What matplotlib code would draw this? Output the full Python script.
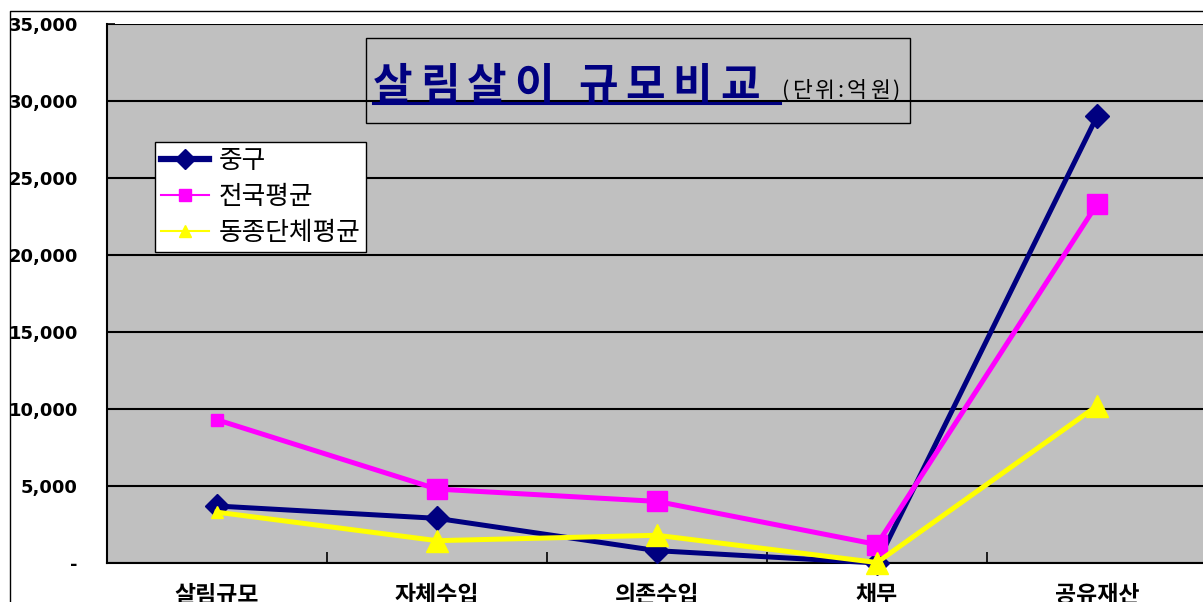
import matplotlib.pyplot as plt
from matplotlib.lines import Line2D
from matplotlib.patches import Rectangle

plt.rcParams['font.family'] = ['Noto Sans CJK KR', 'DejaVu Sans']

# data
categories = ['살림규모', '자체수입', '의존수입', '채무', '공유재산']
series_names = ['중구', '전국평균', '동종단체평균']
jung_gu = [3700, 2900, 800, 0, 29000]
national_avg = [9300, 4800, 4000, 1200, 23300]
peer_avg = [3300, 1450, 1800, 30, 10200]
y_ticks = [0, 5000, 10000, 15000, 20000, 25000, 30000, 35000]
y_tick_labels = ['-', '5,000', '10,000', '15,000', '20,000', '25,000', '30,000', '35,000']

W, H = 1203, 602
fig = plt.figure(figsize=(W / 100, H / 100), dpi=100)
fig.patch.set_facecolor('white')

# axes in pixel terms: left 107, right 1207, top 24, bottom 563
ax = fig.add_axes([107 / W, (H - 563) / H, (1207 - 107) / W, (563 - 24) / H])
ax.set_facecolor('#C0C0C0')

x = list(range(len(categories)))
styles = [
    (jung_gu, '#000080', 'D', 12, 12),
    (national_avg, '#FF00FF', 's', 14, 8),
    (peer_avg, '#FFFF00', '^', 16, 8),
]
for vals, color, marker, big, small in styles:
    ax.plot(x, vals, color=color, lw=3.6, marker=marker, ms=big,
            markevery=[1, 2, 3, 4], mec=color, mfc=color, clip_on=False, zorder=3)
    ax.plot(x[:1], vals[:1], color=color, lw=0, marker=marker, ms=small,
            mec=color, mfc=color, clip_on=False, zorder=3)

ax.set_xlim(-0.5, len(categories) - 0.5)
ax.set_ylim(0, 35000)
ax.set_yticks(y_ticks)
ax.set_yticklabels(y_tick_labels, fontsize=13, fontweight='bold', family='DejaVu Sans')
ax.yaxis.grid(True, color='black', lw=1.5)
ax.set_axisbelow(True)
ax.tick_params(axis='y', direction='in', length=6, width=1.2, pad=21)

ax.set_xticks(x)
ax.set_xticklabels(categories, fontsize=16.5, fontweight='bold')
ax.set_xticks([i + 0.5 for i in x[:-1]], minor=True)
ax.tick_params(axis='x', which='major', length=0, pad=15)
ax.tick_params(axis='x', which='minor', direction='in', length=8, width=1.2)

for s in ['top', 'right']:
    ax.spines[s].set_visible(False)
for s in ['left', 'bottom']:
    ax.spines[s].set_color('black')
    ax.spines[s].set_linewidth(1.5)

# legend
handles = [
    Line2D([], [], color='#000080', lw=4.5, marker='D', ms=10),
    Line2D([], [], color='#FF00FF', lw=1.5, marker='s', ms=8),
    Line2D([], [], color='#FFFF00', lw=1.5, marker='^', ms=8),
]
leg = fig.legend(handles, series_names, loc='upper left',
                 bbox_to_anchor=(155 / W, 1 - 142 / H), bbox_transform=fig.transFigure,
                 borderaxespad=0, fancybox=False, framealpha=1, edgecolor='black',
                 facecolor='white', fontsize=18.5, handlelength=1.9, handletextpad=0.36,
                 labelspacing=0.4, borderpad=0.22)
leg.get_frame().set_linewidth(1)

# title box
fig.add_artist(Rectangle((366 / W, 1 - 123 / H), (910 - 366) / W, (123 - 38) / H,
                         transform=fig.transFigure, fill=False, ec='black', lw=1))

renderer = fig.canvas.get_renderer()


def spaced_text(x0, y0, s, track, space, **kw):
    # draw a string char by char with extra spacing (pixel coords from top-left)
    xpos = x0
    for ch in s:
        if ch == ' ':
            xpos += space
            continue
        t = fig.text(xpos / W, 1 - y0 / H, ch, va='baseline', ha='left', **kw)
        xpos += t.get_window_extent(renderer).width + track
    return xpos


spaced_text(373, 99, '살림살이 규모비교', 7.5, 17, fontsize=31, fontweight='bold',
            color='#000080')
spaced_text(782, 97, '(단위:억원)', 3, 0, fontsize=15.5, color='black')
fig.add_artist(Line2D([373 / W, 780 / W], [1 - 103 / H, 1 - 103 / H],
                      transform=fig.transFigure, color='#000080', lw=2.2))

# outer chart frame
fig.add_artist(Line2D([10 / W, 10 / W, 1], [0, 1 - 11 / H, 1 - 11 / H],
                      transform=fig.transFigure, color='black', lw=1))

fig.savefig('out.png', dpi=100)
